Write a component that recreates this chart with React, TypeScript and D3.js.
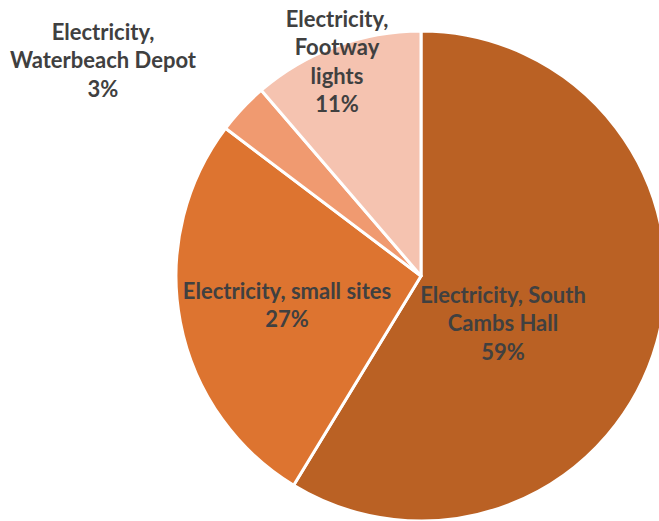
import React from "react";
import * as d3 from "d3";

const categories = [
  "Electricity, South Cambs Hall",
  "Electricity, small sites",
  "Electricity, Waterbeach Depot",
  "Electricity, Footway lights",
];
const values = [58.7, 26.6, 3.4, 11.3];
const percentLabels = ["59%", "27%", "3%", "11%"];
const labelLines = [
  ["Electricity, South", "Cambs Hall"],
  ["Electricity, small sites"],
  ["Electricity,", "Waterbeach Depot"],
  ["Electricity,", "Footway", "lights"],
];
const colors = ["#BA6124", "#DD7430", "#F09A70", "#F5C3B0"];

const W = 659, H = 521;
const cx = 421, cy = 276, R = 245;
// label anchor positions (centre of first line)
const labelPos: [number, number][] = [
  [503, 294],
  [287, 290],
  [103, 31],
  [337, 18],
];
const lineH = 28.5;

export default function App() {
  const pie = d3.pie<number>().sort(null).value((d) => d);
  const arcs = pie(values);
  const arc = d3.arc<d3.PieArcDatum<number>>().innerRadius(0).outerRadius(R);
  return (
    <svg width={W} height={H} style={{ position: "absolute", left: 0, top: 0 }}>
      <rect width={W} height={H} fill="#fff" />
      <g transform={`translate(${cx},${cy})`}>
        {arcs.map((a, i) => (
          <path key={categories[i]} d={arc(a) || ""} fill={colors[i]} stroke="#fff" strokeWidth={3} strokeLinejoin="round" />
        ))}
      </g>
      {labelLines.map((lines, i) => {
        const all = [...lines, percentLabels[i]];
        return (
          <text key={i} textAnchor="middle" fontFamily="Lato, 'Open Sans', sans-serif" fontWeight="bold" fontSize={22} fill="#404040">
            {all.map((t, j) => (
              <tspan key={j} x={labelPos[i][0]} y={labelPos[i][1] + j * lineH} dominantBaseline="central">{t}</tspan>
            ))}
          </text>
        );
      })}
    </svg>
  );
}
